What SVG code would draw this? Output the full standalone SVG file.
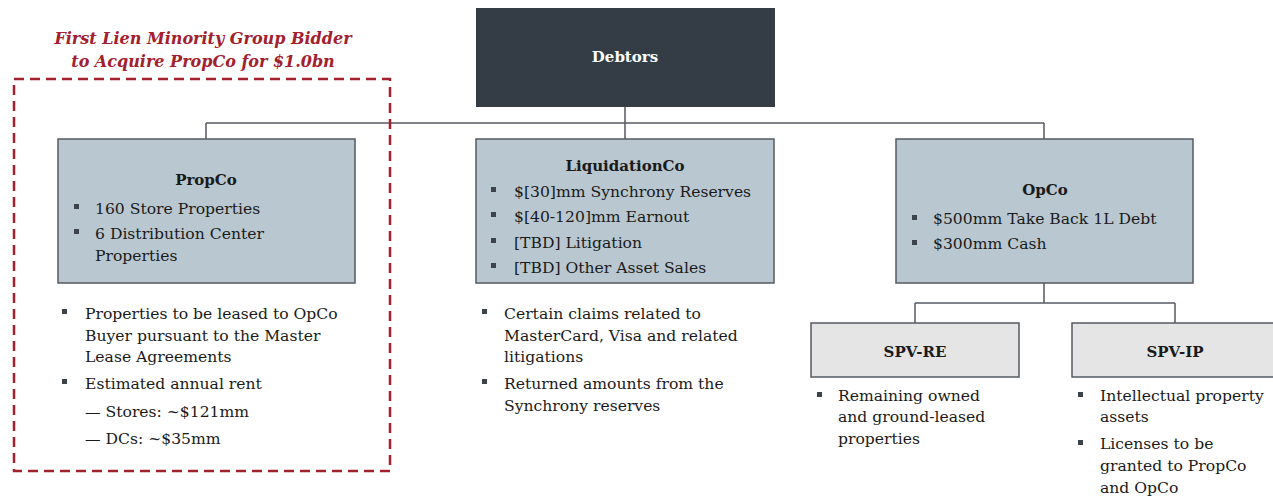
<svg xmlns="http://www.w3.org/2000/svg" width="1273" height="500" viewBox="0 0 1273 500">
<style>
text{font-family:"DejaVu Serif","Liberation Serif",serif;font-size:15.6px;fill:#1a1a1a}
.t{font-weight:bold;text-anchor:middle;font-size:15px}
.w{fill:#fff}
.h{font-style:italic;font-weight:bold;fill:#a3202f;font-size:16px;text-anchor:middle}
.box{fill:#b8c7d0;stroke:#555b60;stroke-width:1.5}
.gbox{fill:#e5e5e5;stroke:#555b60;stroke-width:1.5}
.c{fill:none;stroke:#555b60;stroke-width:1.5}
.b{fill:#3c434a}
</style>
<rect width="1273" height="500" fill="#fff"/>
<g id="connectors">
<path class="c" d="M625 107V139M206 123H1044M206 123V139M1044 123V139M1044 283V303M915 303H1175M915 303V323M1175 303V323"/>
</g>
<g id="bidder">
<rect x="14" y="79" width="376" height="392" fill="none" stroke="#a3202f" stroke-width="2.5" stroke-dasharray="10,6"/>
<text class="h" x="203" y="44">First Lien Minority Group Bidder</text>
<text class="h" x="203" y="67">to Acquire PropCo for $1.0bn</text>
</g>
<g id="debtors">
<rect x="476" y="8" width="299" height="99" fill="#343d46"/>
<text class="t w" x="625" y="62">Debtors</text>
</g>
<g id="propco">
<rect class="box" x="58" y="139" width="297" height="144"/>
<text class="t" x="206" y="185">PropCo</text>
<rect class="b" x="74" y="204" width="5" height="5"/><text x="95" y="214">160 Store Properties</text>
<rect class="b" x="74" y="229" width="5" height="5"/><text x="95" y="239">6 Distribution Center</text>
<text x="95" y="261">Properties</text>
</g>
<g id="propco-notes">
<rect class="b" x="62" y="309" width="5" height="5"/><text x="85" y="319">Properties to be leased to OpCo</text>
<text x="85" y="341">Buyer pursuant to the Master</text>
<text x="85" y="362">Lease Agreements</text>
<rect class="b" x="62" y="379" width="5" height="5"/><text x="85" y="389">Estimated annual rent</text>
<text x="85" y="417">— Stores: ~$121mm</text>
<text x="85" y="444">— DCs: ~$35mm</text>
</g>
<g id="liquidationco">
<rect class="box" x="476" y="139" width="298" height="144"/>
<text class="t" x="625" y="171">LiquidationCo</text>
<rect class="b" x="491" y="187" width="5" height="5"/><text x="514" y="197">$[30]mm Synchrony Reserves</text>
<rect class="b" x="491" y="212" width="5" height="5"/><text x="514" y="222">$[40-120]mm Earnout</text>
<rect class="b" x="491" y="238" width="5" height="5"/><text x="514" y="248">[TBD] Litigation</text>
<rect class="b" x="491" y="263" width="5" height="5"/><text x="514" y="273">[TBD] Other Asset Sales</text>
</g>
<g id="liquidationco-notes">
<rect class="b" x="482" y="309" width="5" height="5"/><text x="504" y="319">Certain claims related to</text>
<text x="504" y="341">MasterCard, Visa and related</text>
<text x="504" y="362">litigations</text>
<rect class="b" x="482" y="379" width="5" height="5"/><text x="504" y="389">Returned amounts from the</text>
<text x="504" y="411">Synchrony reserves</text>
</g>
<g id="opco">
<rect class="box" x="896" y="139" width="297" height="144"/>
<text class="t" x="1045" y="195">OpCo</text>
<rect class="b" x="912" y="215" width="5" height="5"/><text x="933" y="224">$500mm Take Back 1L Debt</text>
<rect class="b" x="912" y="240" width="5" height="5"/><text x="933" y="249">$300mm Cash</text>
</g>
<g id="spv-re">
<rect class="gbox" x="811" y="323" width="208" height="54"/>
<text class="t" x="915" y="357">SPV-RE</text>
<rect class="b" x="817" y="392" width="5" height="5"/><text x="838" y="401">Remaining owned</text>
<text x="838" y="422">and ground-leased</text>
<text x="838" y="444">properties</text>
</g>
<g id="spv-ip">
<rect class="gbox" x="1072" y="323" width="210" height="54"/>
<text class="t" x="1175" y="357">SPV-IP</text>
<rect class="b" x="1078" y="392" width="5" height="5"/><text x="1100" y="401">Intellectual property</text>
<text x="1100" y="422">assets</text>
<rect class="b" x="1078" y="440" width="5" height="5"/><text x="1100" y="449">Licenses to be</text>
<text x="1100" y="471">granted to PropCo</text>
<text x="1100" y="493">and OpCo</text>
</g>
</svg>
